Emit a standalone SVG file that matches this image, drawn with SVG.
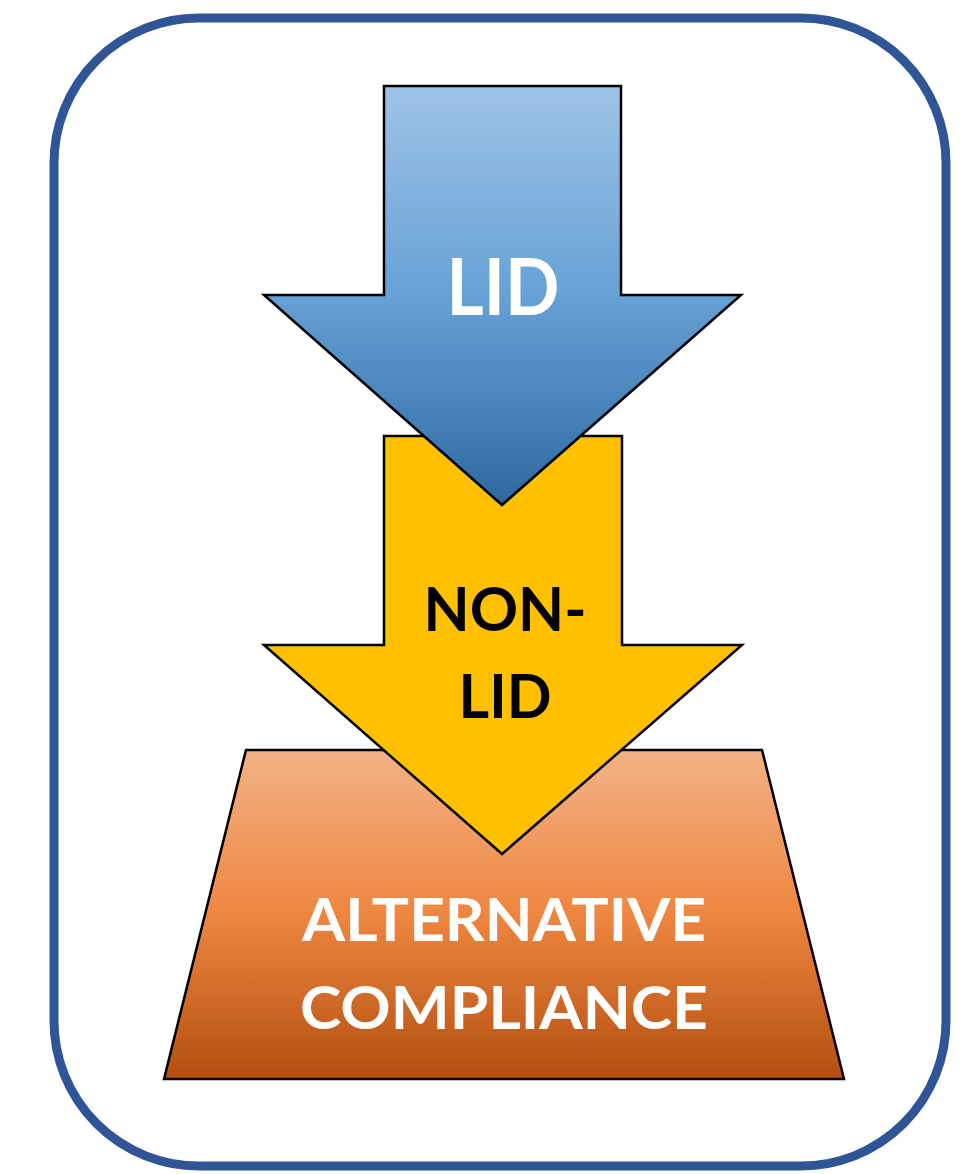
<svg xmlns="http://www.w3.org/2000/svg" width="980" height="1174" viewBox="0 0 980 1174">
  <defs>
    <linearGradient id="gBlue" x1="0" y1="0" x2="0" y2="1">
      <stop offset="0" stop-color="#9FC3E7"/>
      <stop offset="0.5" stop-color="#66A1D6"/>
      <stop offset="1" stop-color="#2D68A0"/>
    </linearGradient>
    <linearGradient id="gOrange" x1="0" y1="0" x2="0" y2="1">
      <stop offset="0" stop-color="#F3B286"/>
      <stop offset="0.5" stop-color="#EE8640"/>
      <stop offset="1" stop-color="#B24F10"/>
    </linearGradient>
    <style>
      .shape { stroke: #000000; stroke-width: 2.5; stroke-linejoin: miter; }
      .lbl { font-family: Lato, "Open Sans", "Liberation Sans", sans-serif; font-weight: bold; text-anchor: middle; }
    </style>
  </defs>
  <rect x="0" y="0" width="980" height="1174" fill="#FFFFFF"/>
  <g id="frame">
    <rect x="54" y="18" width="892" height="1148" rx="145" ry="145" fill="none" stroke="#2F5597" stroke-width="9"/>
  </g>
  <g id="alternative-compliance">
    <polygon class="shape" points="246,750 762,750 844,1079 164,1079" fill="url(#gOrange)"/>
    <text class="lbl" x="504" y="941" font-size="60" fill="#FFFFFF" textLength="404" lengthAdjust="spacingAndGlyphs">ALTERNATIVE</text>
    <text class="lbl" x="504" y="1029" font-size="60" fill="#FFFFFF" textLength="408" lengthAdjust="spacingAndGlyphs">COMPLIANCE</text>
  </g>
  <g id="non-lid">
    <polygon class="shape" points="384,436 622,436 622,645 742,645 502,854 264,645 384,645" fill="#FFC000"/>
    <text class="lbl" x="505" y="631" font-size="61" fill="#000000" textLength="163" lengthAdjust="spacingAndGlyphs">NON-</text>
    <text class="lbl" x="505" y="718" font-size="61" fill="#000000" textLength="93" lengthAdjust="spacingAndGlyphs">LID</text>
  </g>
  <g id="lid">
    <polygon class="shape" points="384,86 621,86 621,295 741,295 502,505 264,295 384,295" fill="url(#gBlue)"/>
    <text class="lbl" x="503" y="315" font-size="79" fill="#FFFFFF" textLength="113" lengthAdjust="spacingAndGlyphs">LID</text>
  </g>
  <g id="connectors"></g>
</svg>
